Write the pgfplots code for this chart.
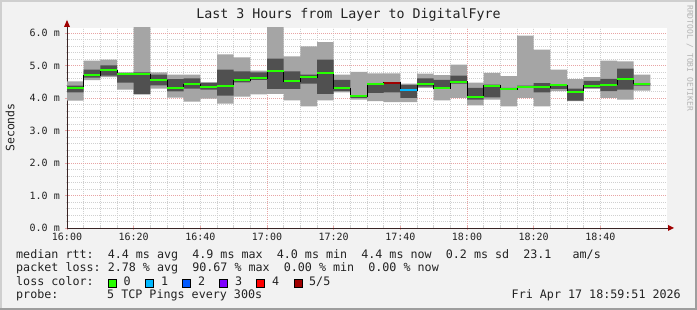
\documentclass[border=0pt]{standalone}
\usepackage{fontspec}
\setmainfont{DejaVu Sans Mono}
\usepackage{xcolor}
\usepackage{pgfplots}
\pgfplotsset{compat=1.18}
\usepgfplotslibrary{fillbetween}
\usepackage{pgfplotstable}

\definecolor{canvas}{HTML}{F2F2F2}
\definecolor{shadea}{HTML}{CFCFCF}
\definecolor{shadeb}{HTML}{9E9E9E}
\definecolor{lgrey}{HTML}{A5A5A5}
\definecolor{dgrey}{HTML}{505050}
\definecolor{mgrid}{HTML}{D0D0D0}
\definecolor{Mgrid}{HTML}{E8A4A4}
\definecolor{loss0}{HTML}{26FF00}
\definecolor{loss1}{HTML}{00B8FF}
\definecolor{loss2}{HTML}{0059FF}
\definecolor{loss3}{HTML}{7E00FF}
\definecolor{loss4}{HTML}{FF0000}
\definecolor{loss5}{HTML}{A00000}
\definecolor{txt}{HTML}{222222}
\definecolor{axiscol}{HTML}{3A2424}
\definecolor{faint}{HTML}{B4B4B4}

% t = minutes after 16:00; llo/lhi: outer smoke, dlo/dhi: inner smoke, med: median rtt (ms)
\pgfplotstableread{
t llo dlo dhi lhi med
0 3.92 4.17 4.38 4.51 4.32
5 4.55 4.63 4.87 5.15 4.70
10 4.64 4.69 5.00 5.18 4.85
15 4.26 4.47 4.77 4.79 4.74
20 4.10 4.13 4.79 6.50 4.73
25 4.29 4.39 4.72 4.79 4.56
30 4.01 4.20 4.58 4.72 4.32
35 3.89 4.29 4.60 4.72 4.42
40 3.98 4.26 4.46 4.49 4.35
45 3.83 4.07 4.87 5.34 4.36
50 4.04 4.48 4.82 5.25 4.54
55 4.11 4.56 4.79 4.84 4.60
60 4.13 4.28 5.21 6.50 4.82
65 3.93 4.28 4.82 5.28 4.51
70 3.74 4.44 4.72 5.59 4.64
75 3.93 4.13 5.18 5.72 4.77
80 4.17 4.21 4.56 4.72 4.30
85 3.95 4.00 4.08 4.80 4.05
90 3.90 4.16 4.44 4.76 4.44
95 3.87 4.17 4.49 4.76 4.47
100 3.87 4.00 4.40 4.44 4.24
105 4.31 4.35 4.60 4.75 4.42
110 3.93 4.31 4.56 4.70 4.30
115 4.00 4.44 4.69 5.03 4.50
120 3.77 3.95 4.31 4.47 4.02
125 3.95 4.02 4.41 4.77 4.38
130 3.74 4.25 4.31 4.67 4.28
135 4.00 4.31 4.38 5.92 4.35
140 3.74 4.17 4.46 5.49 4.33
145 4.21 4.28 4.41 4.87 4.39
150 3.90 3.92 4.29 4.58 4.17
155 4.28 4.31 4.53 4.64 4.38
160 4.00 4.21 4.59 5.15 4.41
165 3.95 4.26 4.90 5.13 4.58
170 4.23 4.38 4.46 4.72 4.44
175 4.23 4.38 4.46 4.72 4.44
}\smoke

\begin{document}
\pagecolor{canvas}%
\begin{tikzpicture}[x=1pt,y=1pt]
\path (0,0) rectangle (697,310);
\fill[shadea] (0,0) rectangle (2,310);
\fill[shadea] (0,308) rectangle (697,310);
\fill[shadeb] (695,0) rectangle (697,310);
\fill[shadeb] (0,0) rectangle (697,2);

\begin{axis}[
  at={(67pt,82pt)}, anchor=south west,
  width=600pt, height=200pt, scale only axis,
  xmin=0, xmax=180, ymin=0, ymax=6.154,
  axis background/.style={fill=white},
  axis x line*=bottom, axis y line*=left,
  axis line style={axiscol, line width=0.8pt},
  xtick={0,20,...,160},
  xticklabels={16:00,16:20,16:40,17:00,17:20,17:40,18:00,18:20,18:40},
  minor x tick num=3,
  ytick={0,1,...,6},
  yticklabels={0.0 m,1.0 m,2.0 m,3.0 m,4.0 m,5.0 m,6.0 m},
  minor y tick num=4,
  xmajorgrids, xminorgrids, ymajorgrids=false, yminorgrids,
  major grid style={mgrid, line width=0.6pt, dash pattern=on 1pt off 1pt},
  minor grid style={mgrid, line width=0.6pt, dash pattern=on 1pt off 1pt},
  extra x ticks={60,120}, extra x tick labels={},
  extra y ticks={1,2,3,4,5,6}, extra y tick labels={},
  extra tick style={grid=major, major grid style={Mgrid, line width=0.6pt, dash pattern=on 1pt off 1pt}},
  tick align=center,
  major tick length=4pt, minor tick length=3pt,
  every major tick/.append style={Mgrid, line width=0.6pt},
  every minor tick/.append style={mgrid, line width=0.6pt},
  xticklabel style={font=\fontsize{10}{12}\selectfont, text=txt, anchor=north, inner sep=0pt, yshift=-3pt},
  yticklabel style={font=\fontsize{10}{12}\selectfont, text=txt, anchor=east, inner sep=0pt, xshift=-5pt},
  clip=true,
]
\addplot[name path=LL, draw=none, const plot mark left] table[x=t, y=llo] {\smoke};
\addplot[name path=LH, draw=none, const plot mark left] table[x=t, y=lhi] {\smoke};
\addplot[name path=DL, draw=none, const plot mark left] table[x=t, y=dlo] {\smoke};
\addplot[name path=DH, draw=none, const plot mark left] table[x=t, y=dhi] {\smoke};
\addplot[lgrey, draw=none] fill between[of=LL and LH];
\addplot[dgrey, draw=none] fill between[of=DL and DH];
\addplot[black, line width=0.5pt, const plot mark left] table[x=t, y=med] {\smoke};
\addplot[loss0, line width=2pt, jump mark left] table[x=t, y=med] {\smoke};
\addplot[loss5, line width=2pt] coordinates {(95,4.47) (100,4.47)};
\addplot[loss1, line width=2pt] coordinates {(100,4.24) (105,4.24)};
\end{axis}

% axis arrows
\draw[axiscol, line width=0.8pt] (667,82) -- (669,82);
\fill[loss5] (668,79) -- (674,82) -- (668,85) -- cycle;
\draw[axiscol, line width=0.8pt] (67,282) -- (67,284);
\fill[loss5] (64,283) -- (67,290) -- (70,283) -- cycle;

% title and labels
\node[font=\fontsize{13.3}{15}\selectfont, text=txt, anchor=base, inner sep=0pt] at (348.5,291) {Last 3 Hours from Layer to DigitalFyre};
\node[font=\fontsize{11.5}{13}\selectfont, text=txt, rotate=90, inner sep=0pt] at (10,182.5) {Seconds};
\node[font=\fontsize{8}{9}\selectfont, text=faint, rotate=-90, anchor=west, inner sep=0pt] at (690,305) {RRDTOOL / TOBI OETIKER};

% legend
\begin{scope}[every node/.style={font=\fontsize{11.7}{13}\selectfont, text=txt, anchor=base west, inner sep=0pt}]
\node at (16,51) {median rtt:~~4.4 ms avg~~4.9 ms max~~4.0 ms min~~4.4 ms now~~0.2 ms sd~~23.1~~~am/s};
\node at (16,38) {packet loss:~2.78 \% avg~~90.67 \% max~~0.00 \% min~~0.00 \% now};
\node at (16,24) {loss color:};
\node at (16,11) {probe:};
\node at (107,11) {5 TCP Pings every 300s};
\node[anchor=base east] at (681,11) {Fri Apr 17 18:59:51 2026};
\node at (123.5,24) {0};
\node at (160.9,24) {1};
\node at (198,24) {2};
\node at (235,24) {3};
\node at (272,24) {4};
\node at (309,24) {5/5};
\end{scope}
\foreach \bx/\bc in {108/loss0,145.5/loss1,182.7/loss2,219.5/loss3,256.5/loss4,293.8/loss5}{
  \filldraw[fill=\bc, draw=black, line width=0.6pt] (\bx,23) rectangle (\bx+8,31);
}
\end{tikzpicture}
\end{document}
